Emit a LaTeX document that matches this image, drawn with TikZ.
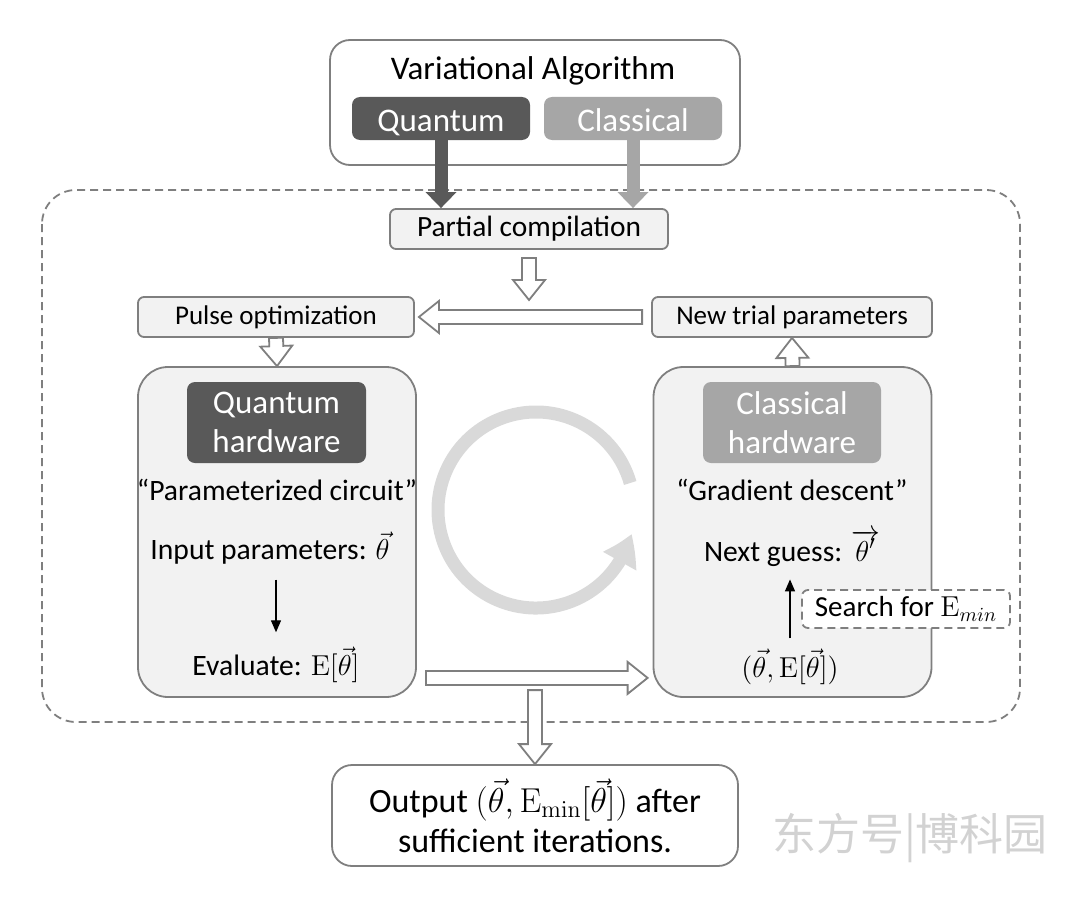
\documentclass[tikz,border=0pt]{standalone}
\usepackage[no-math]{fontspec}
\setmainfont{Carlito}
\newfontfamily\cjkfont{Noto Sans CJK SC}
\usetikzlibrary{arrows.meta,bending,calc}
\definecolor{darkbox}{HTML}{595959}
\definecolor{midbox}{HTML}{A6A6A6}
\definecolor{lightbox}{HTML}{F2F2F2}
\definecolor{edge}{HTML}{7F7F7F}
\definecolor{cycgray}{HTML}{D9D9D9}

\begin{document}
\begin{tikzpicture}[x=0.5pt, y=-0.5pt, >={Triangle[length=6pt,width=5pt]},
    bigtxt/.style={font=\fontsize{16.5}{19.5}\selectfont},
    midtxt/.style={font=\fontsize{14.8}{18}\selectfont},
    smalltxt/.style={font=\fontsize{13.5}{16}\selectfont},
    outer/.style={draw=edge, line width=0.9pt, rounded corners=10pt, fill=white},
    panel/.style={draw=edge, line width=0.9pt, rounded corners=15pt, fill=lightbox,
      minimum width=139pt, minimum height=165pt},
    stage/.style={draw=edge, line width=0.9pt, rounded corners=3pt, fill=lightbox,
      smalltxt, inner sep=2pt, minimum height=20pt},
    tag/.style={rounded corners=4pt, text=white, bigtxt, align=center, inner sep=1pt},
    frame/.style={draw=edge, line width=0.9pt, dash pattern=on 4pt off 2.5pt, rounded corners=17pt},
    solidarr/.style={line width=6.5pt, -{Triangle[length=8pt,width=15pt]}},
    hollow/.style={draw=edge, fill=white, line width=0.9pt,
      to path={let \p1=(\tikztostart), \p2=(\tikztotarget),
        \n1={atan2(\y2-\y1,\x2-\x1)}, \n2={veclen(\x2-\x1,\y2-\y1)-10pt} in
        ($(\p1)+(\n1+90:3.5pt)$) -- ($(\p1)+(\n1:{\n2*1pt})+(\n1+90:3.5pt)$)
        -- ($(\p1)+(\n1:{\n2*1pt})+(\n1+90:8pt)$) -- (\p2)
        -- ($(\p1)+(\n1:{\n2*1pt})+(\n1-90:8pt)$) -- ($(\p1)+(\n1:{\n2*1pt})+(\n1-90:3.5pt)$)
        -- ($(\p1)+(\n1-90:3.5pt)$) -- cycle}}]
    \useasboundingbox (0,0) rectangle (1080,899);

    \draw[frame] (42,190) rectangle (1020,722);

    \node[outer, minimum width=205pt, minimum height=62.5pt] (va) at (535,102.5) {};
    \node[bigtxt] (vat) at (533,71) {Variational Algorithm};
    \node[tag, fill=darkbox, minimum width=89pt, minimum height=21.5pt, text height=14.5pt, text depth=1.5pt] (qa) at (441,118.5) {Quantum};
    \node[tag, fill=midbox, minimum width=89pt, minimum height=21.5pt, text height=14.5pt, text depth=1.5pt] (ca) at (633,118.5) {Classical};

    \node[stage, minimum width=139pt, font=\fontsize{14.7}{17}\selectfont] (pc) at (529,229) {Partial compilation};
    \node[stage, minimum width=138pt] (pulse) at (276,317) {Pulse optimization};
    \node[stage, minimum width=140pt] (ntp) at (792,317) {New trial parameters};
    \coordinate (junc) at ($(pulse.east)!0.5!(ntp.west)$);

    \draw[solidarr, darkbox] (qa.south) -- (qa.south |- pc.north);
    \draw[solidarr, midbox] (ca.south) -- (ca.south |- pc.north);

    \node[panel] (qpanel) at (277,532) {};
    \node[panel] (cpanel) at (792.5,532) {};
    \node[tag, fill=darkbox, minimum width=89.5pt, minimum height=40.5pt] (qhw) at (276.5,422.5) {Quantum\\hardware};
    \node[tag, fill=midbox, minimum width=89pt, minimum height=40.5pt] (chw) at (792,422.5) {Classical\\hardware};

    \node[midtxt] (circ) at (277,490) {“Parameterized circuit”};
    \node[midtxt] (inp) at (270,548) {Input parameters: $\vec{\theta}$};
    \node[midtxt] (eval) at (276,665) {Evaluate: $\mathrm{E}[\vec{\theta}]$};
    \node[midtxt] (grad) at (792,490) {“Gradient descent”};
    \node[midtxt] (nxt) at (792,548) {Next guess: $\overrightarrow{\theta'}$};
    \node[midtxt] (pair) at (790,667) {$(\vec{\theta},\mathrm{E}[\vec{\theta}])$};
    \node[draw=edge, line width=0.9pt, dash pattern=on 4pt off 2.5pt, rounded corners=3pt, fill=white,
      font=\fontsize{14.5}{17}\selectfont, inner sep=1pt, minimum width=104pt, minimum height=19pt]
      (search) at (906,609) {Search for $\mathrm{E}_{min}$};

    \draw[->, line width=0.7pt, shorten <=4pt, shorten >=4pt] (inp.south -| eval.north) -- (eval.north);
    \draw[->, line width=0.7pt, shorten <=2pt, shorten >=3pt] (pair.north) -- (pair.north |- nxt.south);

    \coordinate (cyc) at (536,510);
    \draw[cycgray, line width=6.5pt, -{Triangle[length=15pt,width=18pt,bend]}]
      ([shift={(16:49pt)}]cyc) arc[start angle=16, end angle=346, radius=49pt];

    \draw[hollow] ($(pc.south)+(0pt,-4pt)$) to ($(pc.south |- junc)+(0pt,8.5pt)$);
    \draw[hollow] ($(ntp.west)+(-4.5pt,0pt)$) to ($(pulse.east)+(2pt,0pt)$);
    \draw[hollow] (pulse.south) to (qpanel.north);
    \draw[hollow] (cpanel.north) to (ntp.south);
    \draw[hollow] ($(qpanel.south east)+(4.5pt,10pt)$) to ($(cpanel.south west)+(-2.5pt,10pt)$);

    \node[outer, align=center, font=\fontsize{17}{20}\selectfont, minimum width=203pt, minimum height=50.5pt]
      (out) at (535,815.5) {Output $(\vec{\theta},\mathrm{E}_{\mathrm{min}}[\vec{\theta}])$ after\\sufficient iterations.};
    \draw[hollow] ($(out.north)+(0pt,37pt)$) to (out.north);

    \node[font=\cjkfont\fontsize{22}{22}\selectfont, text=gray!35] (wm) at (910,838) {东方号|博科园};
\end{tikzpicture}
\end{document}
